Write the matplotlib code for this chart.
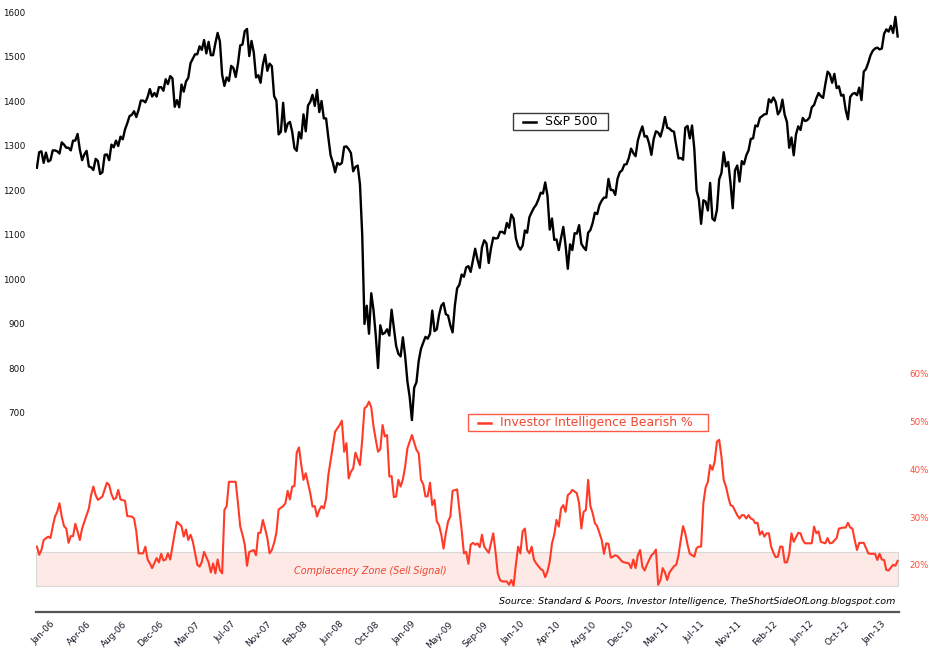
import numpy as np
import matplotlib
matplotlib.use("Agg")
import matplotlib.pyplot as plt
from matplotlib.patches import Rectangle
from matplotlib.lines import Line2D
import matplotlib.transforms as mtransforms

# ---------------- data ----------------
# S&P 500 weekly closes, week 0 = last week of Dec 2005
sp500 = [1250,
    # 2006
    1285, 1287, 1261, 1284, 1264, 1267, 1289, 1289, 1287, 1282, 1307, 1302, 1295,
    1295, 1289, 1311, 1311, 1326, 1291, 1267, 1280, 1288, 1253, 1251, 1245, 1270,
    1265, 1236, 1240, 1279, 1280, 1267, 1302, 1296, 1311, 1299, 1320, 1314, 1336,
    1350, 1366, 1369, 1377, 1364, 1380, 1401, 1401, 1397, 1409, 1427, 1410, 1418,
    # 2007
    1410, 1431, 1431, 1423, 1449, 1438, 1456, 1451, 1387, 1402, 1386, 1437, 1421,
    1444, 1452, 1485, 1495, 1505, 1505, 1523, 1515, 1537, 1507, 1533, 1503, 1503,
    1530, 1553, 1534, 1459, 1434, 1453, 1445, 1479, 1474, 1454, 1484, 1525, 1527,
    1557, 1562, 1501, 1535, 1509, 1453, 1458, 1441, 1481, 1504, 1468, 1484, 1478,
    # 2008
    1411, 1401, 1325, 1331, 1396, 1331, 1349, 1353, 1331, 1294, 1288, 1330, 1316,
    1370, 1332, 1390, 1398, 1414, 1389, 1425, 1375, 1400, 1361, 1361, 1318, 1278,
    1262, 1240, 1261, 1257, 1261, 1297, 1298, 1292, 1283, 1242, 1252, 1255, 1213,
    1099, 899, 940, 877, 968, 930, 873, 800, 896, 876, 879, 887, 873,
    # 2009
    931, 890, 850, 832, 826, 869, 827, 770, 735, 683, 756, 768, 816,
    843, 857, 870, 866, 877, 929, 883, 887, 919, 940, 946, 921, 918,
    896, 880, 940, 979, 987, 1010, 1005, 1026, 1029, 1016, 1042, 1068, 1044,
    1025, 1071, 1087, 1080, 1036, 1069, 1093, 1091, 1092, 1106, 1106, 1102, 1126,
    # 2010
    1115, 1145, 1136, 1092, 1074, 1066, 1075, 1109, 1104, 1139, 1150, 1160, 1167,
    1179, 1194, 1192, 1217, 1187, 1111, 1136, 1088, 1089, 1065, 1092, 1117, 1076,
    1023, 1078, 1065, 1103, 1102, 1121, 1079, 1071, 1065, 1104, 1110, 1126, 1149,
    1146, 1166, 1176, 1183, 1183, 1225, 1200, 1200, 1189, 1225, 1240, 1244, 1257, 1258,
    # 2011
    1272, 1293, 1283, 1276, 1311, 1329, 1343, 1320, 1321, 1304, 1279, 1314, 1332,
    1329, 1320, 1338, 1364, 1340, 1338, 1333, 1331, 1300, 1271, 1272, 1268, 1340,
    1344, 1316, 1345, 1292, 1199, 1179, 1124, 1177, 1174, 1154, 1216, 1136, 1131,
    1155, 1224, 1238, 1285, 1253, 1263, 1216, 1159, 1244, 1255, 1219, 1265, 1258,
    # 2012
    1278, 1289, 1315, 1316, 1345, 1343, 1362, 1366, 1370, 1371, 1404, 1397, 1408,
    1398, 1370, 1378, 1403, 1369, 1353, 1295, 1318, 1278, 1325, 1343, 1335, 1362,
    1355, 1357, 1363, 1386, 1391, 1406, 1418, 1411, 1407, 1438, 1466, 1460, 1441,
    1461, 1429, 1433, 1412, 1414, 1380, 1359, 1409, 1416, 1418, 1413, 1430, 1402,
    # 2013
    1466, 1472, 1486, 1503, 1513, 1518, 1520, 1516, 1518, 1551, 1561, 1556, 1569,
    1553, 1589, 1545]

# Investor Intelligence bearish % (week number, value)
bear_week = [0, 1, 2, 3, 5, 6, 7, 8, 9, 10, 11, 12, 13, 14, 15, 16, 17, 18, 19, 20,
    22, 23, 24, 25, 26, 27, 29, 30, 31, 32, 33, 34, 35, 36, 37, 39, 40, 42, 43, 44,
    45, 47, 48, 49, 50, 51, 53, 54, 55, 56, 57, 58, 59, 60, 61, 62, 64, 65, 66, 67,
    68, 69, 71, 72, 73, 74, 76, 77, 78, 79, 80, 81, 82, 83, 84, 85, 88, 89, 90, 91,
    92, 93, 94, 96, 97, 98, 99, 100, 101, 102, 103, 104, 105, 106, 107, 109, 110, 111, 112, 113,
    114, 115, 116, 117, 118, 119, 121, 122, 123, 124, 125, 126, 127, 128, 129, 131, 132, 134, 135, 136,
    137, 138, 139, 140, 141, 143, 144, 145, 146, 147, 148, 149, 150, 151, 152, 153, 154, 155, 156, 157,
    158, 159, 160, 161, 162, 163, 164, 165, 166, 168, 169, 170, 171, 172, 173, 174, 175, 176, 177, 178,
    179, 180, 181, 182, 183, 184, 186, 187, 188, 189, 190, 191, 192, 193, 194, 195, 196, 197, 198, 200,
    201, 202, 203, 204, 205, 206, 208, 209, 210, 211, 212, 213, 214, 215, 216, 217, 218, 219, 220, 221,
    223, 224, 225, 226, 227, 228, 229, 230, 231, 232, 233, 234, 235, 236, 237, 239, 240, 241, 242, 243,
    244, 245, 246, 247, 248, 250, 251, 252, 253, 254, 255, 256, 257, 259, 260, 262, 263, 264, 265, 266,
    267, 268, 269, 270, 272, 273, 274, 275, 276, 277, 278, 279, 280, 282, 283, 284, 285, 286, 287, 288,
    289, 291, 292, 293, 294, 295, 296, 297, 298, 299, 300, 301, 302, 303, 304, 305, 306, 307, 308, 310,
    311, 312, 313, 314, 315, 316, 317, 318, 319, 320, 321, 322, 323, 324, 325, 326, 327, 328, 329, 330,
    331, 332, 333, 334, 335, 337, 338, 339, 340, 343, 344, 345, 346, 347, 349, 350, 351, 352, 354, 355,
    357, 358, 359, 360, 361, 362, 363, 364, 366, 368, 369, 371, 372, 373, 374, 375, 376, 377, 379, 380,
    381]
bear_pct = [23.8, 22.1, 23.1, 25.2, 25.9, 25.6, 28.0, 30.1, 31.1, 32.9, 30.1, 28.1, 27.6, 24.6, 26.0, 26.0, 28.6, 27.0, 25.2, 27.6,
    30.4, 31.8, 34.6, 36.4, 34.6, 33.6, 34.3, 35.8, 37.2, 36.7, 34.8, 33.7, 34.0, 35.7, 33.7, 33.4, 30.2, 30.1, 29.7, 27.0,
    22.4, 22.4, 23.8, 21.1, 20.3, 19.3, 21.4, 20.5, 22.3, 20.9, 21.1, 22.4, 21.1, 23.8, 26.6, 29.0, 28.1, 25.9, 27.4, 25.2,
    26.3, 24.9, 20.0, 19.6, 20.6, 22.7, 20.5, 18.4, 20.3, 18.2, 21.1, 18.9, 18.2, 31.5, 32.3, 37.4, 37.4, 32.9, 28.0, 26.3,
    24.2, 19.8, 22.7, 23.1, 22.0, 26.7, 26.7, 29.4, 27.6, 25.6, 22.4, 23.1, 24.6, 26.7, 31.6, 32.3, 32.9, 35.5, 33.7, 36.4,
    36.5, 43.5, 44.6, 41.0, 37.8, 39.2, 35.0, 32.2, 32.3, 30.1, 31.5, 32.3, 31.8, 33.9, 38.8, 44.8, 47.9, 49.3, 50.2, 43.7,
    45.5, 38.1, 39.5, 40.2, 43.5, 40.9, 46.2, 52.8, 53.2, 54.2, 53.0, 49.0, 46.2, 43.7, 44.2, 49.3, 46.9, 47.2, 38.5, 38.6,
    34.2, 34.3, 37.8, 36.4, 37.9, 40.6, 44.4, 45.8, 47.2, 44.1, 43.4, 37.8, 36.9, 34.3, 34.4, 37.2, 32.5, 33.6, 29.1, 28.3,
    26.3, 23.4, 26.6, 29.1, 30.1, 35.5, 35.8, 31.5, 27.3, 22.4, 22.7, 20.2, 24.2, 24.6, 24.2, 24.5, 23.7, 26.3, 23.8, 22.5,
    24.6, 26.6, 22.7, 18.2, 16.8, 16.5, 16.5, 15.8, 16.8, 15.6, 20.0, 23.8, 22.4, 27.0, 27.6, 23.1, 22.4, 23.8, 21.1, 20.3,
    19.1, 18.8, 17.4, 18.6, 20.7, 24.5, 26.3, 29.4, 28.0, 31.8, 32.5, 31.1, 34.6, 35.0, 35.7, 35.0, 32.9, 27.6, 31.1, 31.5,
    37.8, 32.3, 30.8, 28.7, 28.1, 25.2, 22.3, 24.5, 24.4, 21.5, 21.7, 22.0, 21.8, 20.7, 20.5, 20.3, 19.3, 21.1, 19.3, 22.0,
    23.1, 19.6, 18.8, 20.0, 22.0, 22.4, 23.2, 15.8, 16.8, 19.3, 18.4, 16.8, 18.4, 19.7, 20.0, 22.0, 25.2, 28.1, 26.6, 24.2,
    22.3, 21.7, 23.5, 23.8, 23.8, 32.9, 36.2, 37.4, 40.9, 39.9, 41.6, 45.8, 46.2, 42.7, 37.8, 36.4, 34.3, 32.5, 32.3, 30.4,
    29.7, 30.4, 30.4, 29.7, 30.4, 29.7, 29.5, 28.7, 28.8, 26.3, 27.0, 25.9, 26.6, 26.6, 23.8, 22.5, 21.6, 21.7, 23.8, 23.8,
    20.5, 20.5, 22.3, 26.6, 24.8, 26.7, 26.6, 25.2, 24.5, 24.5, 28.0, 26.6, 27.0, 24.8, 24.5, 25.6, 24.5, 24.6, 25.6, 27.6,
    27.8, 27.8, 28.8, 27.8, 27.6, 25.2, 23.1, 24.6, 24.6, 22.4, 22.3, 22.3, 21.0, 22.3, 21.1, 21.0, 18.9, 18.8, 20.0, 19.8,
    20.8]

tick_labels = ['Jan-06', 'Apr-06', 'Aug-06', 'Dec-06', 'Mar-07', 'Jul-07', 'Nov-07',
               'Feb-08', 'Jun-08', 'Oct-08', 'Jan-09', 'May-09', 'Sep-09', 'Jan-10',
               'Apr-10', 'Aug-10', 'Dec-10', 'Mar-11', 'Jul-11', 'Nov-11', 'Feb-12',
               'Jun-12', 'Oct-12', 'Jan-13']
sp_ticks = [700, 800, 900, 1000, 1100, 1200, 1300, 1400, 1500, 1600]
bear_ticks = [20, 30, 40, 50, 60]
zone_low, zone_high = 15.6, 22.7

# ---------------- styling ----------------
W, H = 932, 655
RED = '#ff3b28'
RED_TXT = '#f24530'
fig = plt.figure(figsize=(W / 100, H / 100), dpi=100)
fig.patch.set_facecolor('white')

def px(x):
    return x / W

def py(y):
    return 1 - y / H

ax = fig.add_axes([px(36), py(612), (899 - 36) / W, 612 / H])
ax2 = ax.twinx()
ax.set_zorder(2)
ax.patch.set_visible(False)

weeks = np.arange(len(sp500))
ax.plot(weeks, sp500, color='black', lw=1.7, solid_joinstyle='round', zorder=3)
ax2.plot(bear_week, bear_pct, color=RED, lw=1.5, solid_joinstyle='round', zorder=3)
ax2.fill_between([-0.4, 381], zone_low, zone_high, facecolor='#fde9e6',
                 edgecolor='#d8d8d8', lw=0.8, zorder=1)

ax.set_xlim(-0.4, 381.6)
ax.set_ylim(251.7, 1627)
ax2.set_ylim(10.1, 138.4)

for s in ['top', 'left', 'right']:
    ax.spines[s].set_visible(False)
for s in ax2.spines.values():
    s.set_visible(False)
ax.spines['bottom'].set_color('#555555')
ax.spines['bottom'].set_linewidth(1.6)

ax.set_yticks(sp_ticks)
ax.set_yticklabels([str(v) for v in sp_ticks])
ax.tick_params(axis='y', length=0, pad=7.5, labelsize=6.3, labelcolor='#111111')
ax2.set_yticks(bear_ticks)
ax2.set_yticklabels([f'{v}%' for v in bear_ticks])
ax2.tick_params(axis='y', length=0, pad=7.5, labelsize=6.3, labelcolor='#ff4d3a')

tick_weeks = np.arange(1, len(sp500), 16)[:len(tick_labels)]
ax.set_xticks(tick_weeks)
ax.set_xticklabels(tick_labels, rotation=45, ha='right', va='top',
                   rotation_mode='anchor', fontsize=6.5, color='#1a1a2a')
ax.tick_params(axis='x', length=0, pad=5.5)
offset = mtransforms.ScaledTranslation(11 / 100, 0, fig.dpi_scale_trans)
for lab in ax.get_xticklabels():
    lab.set_transform(lab.get_transform() + offset)

# zone text
fig.text(px(370.5), py(571), 'Complacency Zone (Sell Signal)', color=RED_TXT,
         fontsize=6.9, style='italic', ha='center', va='center')
# source text
fig.text(px(895), py(602), 'Source: Standard & Poors, Investor Intelligence, TheShortSideOfLong.blogspot.com',
         color='black', fontsize=6.8, style='italic', ha='right', va='center')

# legend boxes (drawn manually to match the original layout)
def legend_box(x0, x1, y0, y1, edge, line_color, label, text_color, lx0, lx1, tx):
    yc = (y0 + y1) / 2
    fig.patches.append(Rectangle((px(x0), py(y1)), (x1 - x0) / W, (y1 - y0) / H,
                                 transform=fig.transFigure, facecolor='white',
                                 edgecolor=edge, lw=1.0, zorder=5))
    fig.lines.append(Line2D([px(lx0), px(lx1)], [py(yc), py(yc)], transform=fig.transFigure,
                            color=line_color, lw=1.8, zorder=6))
    fig.text(px(tx), py(yc), label, color=text_color, fontsize=8.9,
             ha='left', va='center', zorder=6)

legend_box(513, 608, 113, 130, '#3a3a3a', 'black', 'S&P 500', 'black', 523, 536, 545)
legend_box(468, 708, 414, 431, '#ff5a48', RED, 'Investor Intelligence Bearish %', RED_TXT, 478, 491, 500)

fig.savefig('out.png', dpi=100)
